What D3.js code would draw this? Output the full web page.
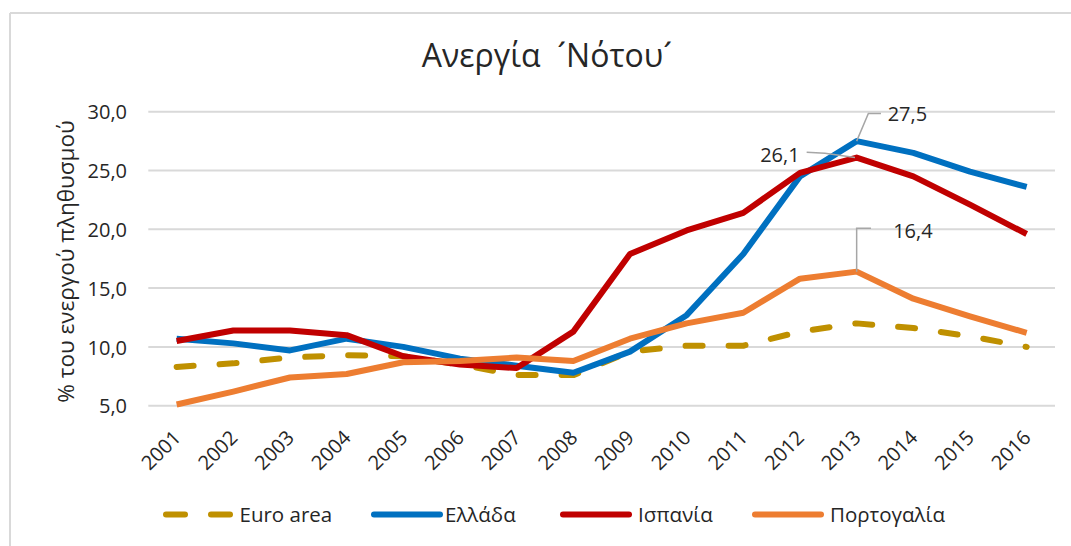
<!DOCTYPE html>
<html>
<head>
<meta charset="utf-8">
<script src="https://cdn.jsdelivr.net/npm/d3@7"></script>
<style>
  html, body { margin: 0; padding: 0; background: #fff; }
  svg { display: block; font-family: "Open Sans", "Noto Sans", sans-serif; }
</style>
</head>
<body>
<svg id="chart" width="1071" height="546"></svg>
<script>
// ---- Data ----
const years = ["2001","2002","2003","2004","2005","2006","2007","2008","2009","2010","2011","2012","2013","2014","2015","2016"];
const euroArea = [8.3, 8.6, 9.1, 9.3, 9.2, 8.5, 7.6, 7.6, 9.6, 10.1, 10.1, 11.3, 12.0, 11.6, 10.9, 10.0];
const greece   = [10.7, 10.3, 9.7, 10.7, 10.0, 9.0, 8.4, 7.8, 9.6, 12.7, 17.9, 24.5, 27.5, 26.5, 24.9, 23.6];
const spain    = [10.5, 11.4, 11.4, 11.0, 9.2, 8.5, 8.2, 11.3, 17.9, 19.9, 21.4, 24.8, 26.1, 24.5, 22.1, 19.6];
const portugal = [5.1, 6.2, 7.4, 7.7, 8.7, 8.8, 9.1, 8.8, 10.7, 12.0, 12.9, 15.8, 16.4, 14.1, 12.6, 11.2];
const yTicks = [5, 10, 15, 20, 25, 30];
const seriesNames = ["Euro area", "Ελλάδα", "Ισπανία", "Πορτογαλία"];
const titleText = "Ανεργία  \u00B4Νότου\u00B4";
const yTitleText = "% του ενεργού πληθυσμού";

const series = [
  { name: seriesNames[0], values: euroArea, color: "#BF9000", dashed: true },
  { name: seriesNames[1], values: greece,   color: "#0070C0" },
  { name: seriesNames[2], values: spain,    color: "#C00000" },
  { name: seriesNames[3], values: portugal, color: "#ED7D31" }
];

const svg = d3.select("#chart");
const fmt = v => d3.format(".1f")(v).replace(".", ",");

// frame (top + left)
svg.append("line").attr("x1", 10).attr("x2", 1071).attr("y1", 13).attr("y2", 13)
  .attr("stroke", "#d9d9d9").attr("stroke-width", 2);
svg.append("line").attr("x1", 10).attr("x2", 10).attr("y1", 13).attr("y2", 546)
  .attr("stroke", "#d9d9d9").attr("stroke-width", 2);

// scales
const plotLeft = 148.3, plotRight = 1055;
const step = (plotRight - plotLeft) / years.length;
const x = d3.scalePoint().domain(years).range([plotLeft + step / 2, plotRight - step / 2]);
const y = d3.scaleLinear().domain([5, 30]).range([405.7, 111.7]);

// title
svg.append("text").attr("x", 547).attr("y", 67).attr("text-anchor", "middle")
  .style("white-space", "pre").attr("xml:space", "preserve")
  .attr("font-size", 32).attr("fill", "#262626").text(titleText);

// gridlines
svg.append("g").selectAll("line").data(yTicks).join("line")
  .attr("x1", plotLeft).attr("x2", plotRight)
  .attr("y1", d => y(d)).attr("y2", d => y(d))
  .attr("stroke", "#d9d9d9").attr("stroke-width", 2);

// y axis labels
const yAxis = svg.append("g").attr("transform", `translate(127,0)`)
  .call(d3.axisLeft(y).tickValues(yTicks).tickSize(0).tickPadding(0).tickFormat(fmt));
yAxis.select(".domain").remove();
yAxis.selectAll("text").attr("font-size", 20).attr("fill", "#262626")
  .attr("font-family", "'Open Sans', sans-serif").attr("dy", "0.36em");

// y title
svg.append("text")
  .attr("transform", `translate(74,${261.5}) rotate(-90)`)
  .attr("text-anchor", "middle").attr("font-size", 22.5).attr("fill", "#262626")
  .text(yTitleText);

// x axis labels
const xAxis = svg.append("g").attr("transform", `translate(0,434)`)
  .call(d3.axisBottom(x).tickSize(0).tickPadding(0));
xAxis.select(".domain").remove();
xAxis.selectAll("text")
  .attr("font-size", 20).attr("fill", "#262626")
  .attr("font-family", "'Open Sans', sans-serif")
  .attr("text-anchor", "end").attr("y", 0).attr("dy", "0.35em")
  .attr("transform", "rotate(-45)");

// lines
const line = d3.line().x((d, i) => x(years[i])).y(d => y(d));
svg.append("g").selectAll("path").data(series).join("path")
  .attr("d", d => line(d.values))
  .attr("fill", "none")
  .attr("stroke", d => d.color)
  .attr("stroke-width", 6)
  .attr("stroke-linejoin", "round")
  .attr("stroke-linecap", d => d.dashed ? "round" : "butt")
  .attr("stroke-dasharray", d => d.dashed ? "17,26" : null);

// annotations (2013)
const iPeak = years.indexOf("2013");
const px = x(years[iPeak]);
const ann = svg.append("g");
const leader = "#a6a6a6";
// Greece 27,5
{
  const py = y(greece[iPeak]);
  ann.append("polyline").attr("points", `${px},${py} ${px + 11.7},${py - 27.7} ${px + 24.3},${py - 27.7}`)
    .attr("fill", "none").attr("stroke", leader).attr("stroke-width", 1.5);
  ann.append("text").attr("x", px + 31).attr("y", py - 27.7).attr("dy", "0.36em")
    .attr("font-size", 20).attr("fill", "#262626").text(fmt(greece[iPeak]));
}
// Spain 26,1
{
  const py = y(spain[iPeak]);
  ann.append("polyline").attr("points", `${px - 1.7},${py} ${px - 31.7},${py - 4.4} ${px - 50},${py - 5.4}`)
    .attr("fill", "none").attr("stroke", leader).attr("stroke-width", 1.5);
  ann.append("text").attr("x", px - 57).attr("y", py - 3).attr("dy", "0.36em").attr("text-anchor", "end")
    .attr("font-size", 20).attr("fill", "#262626").text(fmt(spain[iPeak]));
}
// Portugal 16,4
{
  const py = y(portugal[iPeak]);
  ann.append("polyline").attr("points", `${px},${py} ${px},${py - 43.4} ${px + 14.3},${py - 43.4}`)
    .attr("fill", "none").attr("stroke", leader).attr("stroke-width", 1.5);
  ann.append("text").attr("x", px + 36.5).attr("y", py - 41).attr("dy", "0.36em")
    .attr("font-size", 20).attr("fill", "#262626").text(fmt(portugal[iPeak]));
}

// legend
const legendItems = [
  { s: series[0], lx: 163, tx: 239.5 },
  { s: series[1], lx: 371, tx: 445 },
  { s: series[2], lx: 560, tx: 638 },
  { s: series[3], lx: 752, tx: 830 }
];
const legend = svg.append("g");
const ly = 514.5;
legendItems.forEach(it => {
  if (it.s.dashed) {
    [[it.lx + 3, it.lx + 22], [it.lx + 48, it.lx + 67]].forEach(([a, b]) => {
      legend.append("line").attr("x1", a).attr("x2", b).attr("y1", ly).attr("y2", ly)
        .attr("stroke", it.s.color).attr("stroke-width", 6).attr("stroke-linecap", "round");
    });
  } else {
    legend.append("line").attr("x1", it.lx + 3).attr("x2", it.lx + 69).attr("y1", ly).attr("y2", ly)
      .attr("stroke", it.s.color).attr("stroke-width", 6).attr("stroke-linecap", "round");
  }
  legend.append("text").attr("x", it.tx).attr("y", ly).attr("dy", "0.36em")
    .attr("font-size", 20.5).attr("fill", "#262626").text(it.s.name);
});
</script>
</body>
</html>
